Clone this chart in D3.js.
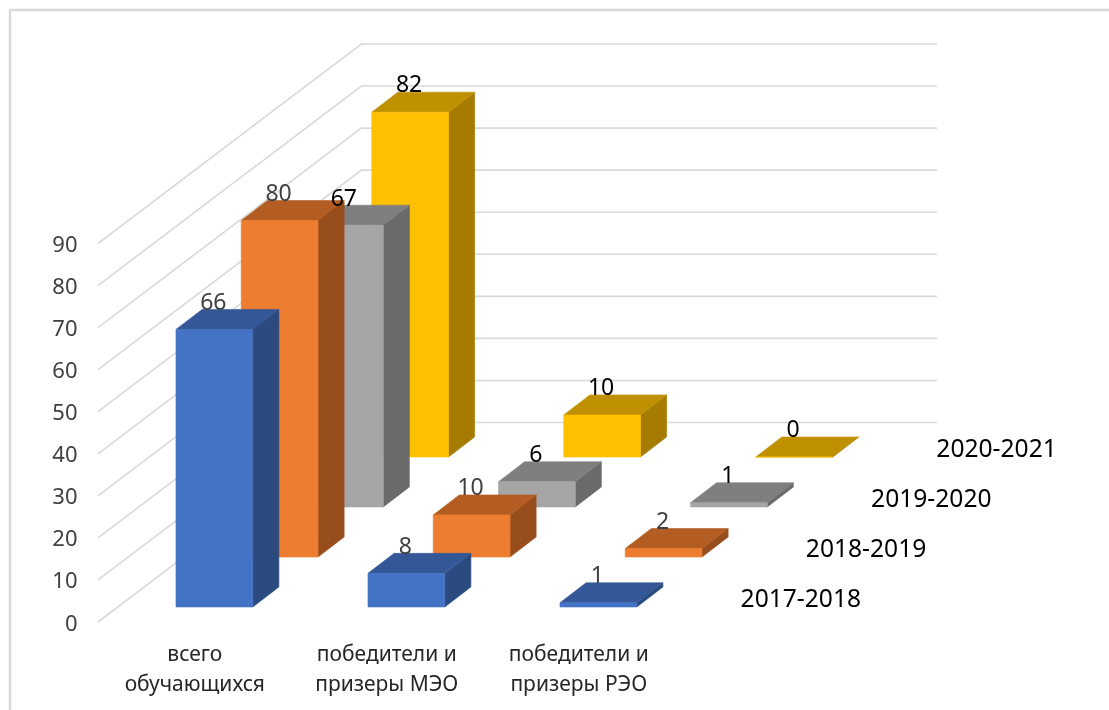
<!DOCTYPE html>
<html>
<head>
<meta charset="utf-8">
<script src="https://cdnjs.cloudflare.com/ajax/libs/d3/7.8.5/d3.min.js"></script>
<style>
  html, body { margin: 0; padding: 0; background: #fff; }
  svg { display: block; filter: blur(0.4px); }
  text { font-family: "Noto Sans", sans-serif; }
</style>
</head>
<body>
<div id="chart"></div>
<script>
// data
const categories = ['всего\nобучающихся', 'победители и\nпризеры МЭО', 'победители и\nпризеры РЭО'];
const seasons = ['2017-2018', '2018-2019', '2019-2020', '2020-2021'];
const values2017 = [66, 8, 1];
const values2018 = [80, 10, 2];
const values2019 = [67, 6, 1];
const values2020 = [82, 10, 0];
const yTicks = [0, 10, 20, 30, 40, 50, 60, 70, 80, 90];

const seriesValues = [values2017, values2018, values2019, values2020];

// front, side, top face and label colour per season
const frontColors = ['#4472c4', '#ed7d31', '#a5a5a5', '#ffc000'];
const sideColors = ['#2a4a80', '#984d1c', '#6a6a6a', '#a67c00'];
const topColors = ['#345897', '#b45d22', '#7f7f7f', '#bf9000'];
const labelColors = ['#404040', '#404040', '#000', '#000'];

const width = 1109, height = 710;
const skew = 1.305;      // px of x per px of depth
const wallSkew = 1.32;   // the walls lean a little more than the bars
const wallDepth = 199.5;
const gridColor = '#d9d9d9';

const svg = d3.select('#chart').append('svg')
  .attr('width', width)
  .attr('height', height);

// scales
const y = d3.scaleLinear().domain([0, 90]).range([622, 243.5]);
const x = d3.scaleBand().domain(categories).range([156.4, 617.2]).paddingInner(0.6);
const depth = d3.scaleBand().domain(seasons).range([15, 185]).paddingInner(0.6);

// oblique projection: px on the front plane + depth
const sx = (px, d) => px + d * skew;
const sy = (v, d) => y(v) - d;
const poly = d3.line();

//frame
svg.append('path')
  .attr('d', 'M10,710V10H1109')
  .attr('fill', 'none')
  .attr('stroke', '#d9d9d9')
  .attr('stroke-width', 2.5);

//gridlines on the two walls
svg.append('g').selectAll('path')
  .data(yTicks)
  .join('path')
  .attr('d', v => poly([[98, y(v)], [98 + wallDepth * wallSkew, sy(v, wallDepth)], [937, sy(v, wallDepth)]]))
  .attr('fill', 'none')
  .attr('stroke', gridColor)
  .attr('stroke-width', 1.6);

//y axis
const yAxis = d3.axisLeft(y).tickValues(yTicks).tickSize(0).tickPadding(0);
const yG = svg.append('g')
  .attr('transform', 'translate(77.5, 1)')
  .call(yAxis);
yG.select('.domain').remove();
yG.selectAll('text')
  .attr('font-size', '22px')
  .attr('fill', '#404040')
  .style('font-family', '"Noto Sans", sans-serif');

//bars, back season first
const bars = svg.append('g');
d3.range(seasons.length).reverse().forEach(s => {
  const d0 = depth(seasons[s]);
  const d1 = d0 + depth.bandwidth();
  categories.forEach((c, i) => {
    const v = seriesValues[s][i];
    const x0 = x(c), x1 = x0 + x.bandwidth();
    const g = bars.append('g');
    const faces = [
      { fill: sideColors[s], pts: [[sx(x1, d0), sy(0, d0)], [sx(x1, d1), sy(0, d1)], [sx(x1, d1), sy(v, d1)], [sx(x1, d0), sy(v, d0)]] },
      { fill: topColors[s], pts: [[sx(x0, d0), sy(v, d0)], [sx(x1, d0), sy(v, d0)], [sx(x1, d1), sy(v, d1)], [sx(x0, d1), sy(v, d1)]] },
      { fill: frontColors[s], pts: [[sx(x0, d0), sy(0, d0)], [sx(x1, d0), sy(0, d0)], [sx(x1, d0), sy(v, d0)], [sx(x0, d0), sy(v, d0)]] }
    ];
    faces.forEach(f => {
      g.append('path')
        .attr('d', poly(f.pts) + 'Z')
        .attr('fill', f.fill)
        .attr('stroke', f.fill)
        .attr('stroke-width', 0.6);
    });
  });
});

//value labels go on top of all bars
const labels = svg.append('g');
seasons.forEach((season, s) => {
  const d0 = depth(season);
  const d1 = d0 + depth.bandwidth();
  categories.forEach((c, i) => {
    const v = seriesValues[s][i];
    labels.append('text')
      .attr('x', sx(x(c) + x.bandwidth() / 2, d0) - 1)
      .attr('y', sy(v, d1) - 8)
      .attr('dy', '0.36em')
      .attr('text-anchor', 'middle')
      .attr('font-size', '23px')
      .attr('fill', labelColors[s])
      .text(v);
  });
});

//season names on the depth axis
svg.append('g').selectAll('text')
  .data(seasons)
  .join('text')
  .attr('x', d => sx(721, depth(d)))
  .attr('y', d => sy(0, depth(d)) - 9)
  .attr('dy', '0.36em')
  .attr('font-size', '24.6px')
  .attr('fill', '#000')
  .text(d => d);

//category labels
categories.forEach(c => {
  c.split('\n').forEach((line, k) => {
    svg.append('text')
      .attr('x', x(c) + x.bandwidth() / 2)
      .attr('y', 653 + k * 30)
      .attr('dy', '0.36em')
      .attr('text-anchor', 'middle')
      .attr('font-size', '21px')
      .attr('fill', '#262626')
      .text(line);
  });
});
</script>
</body>
</html>
